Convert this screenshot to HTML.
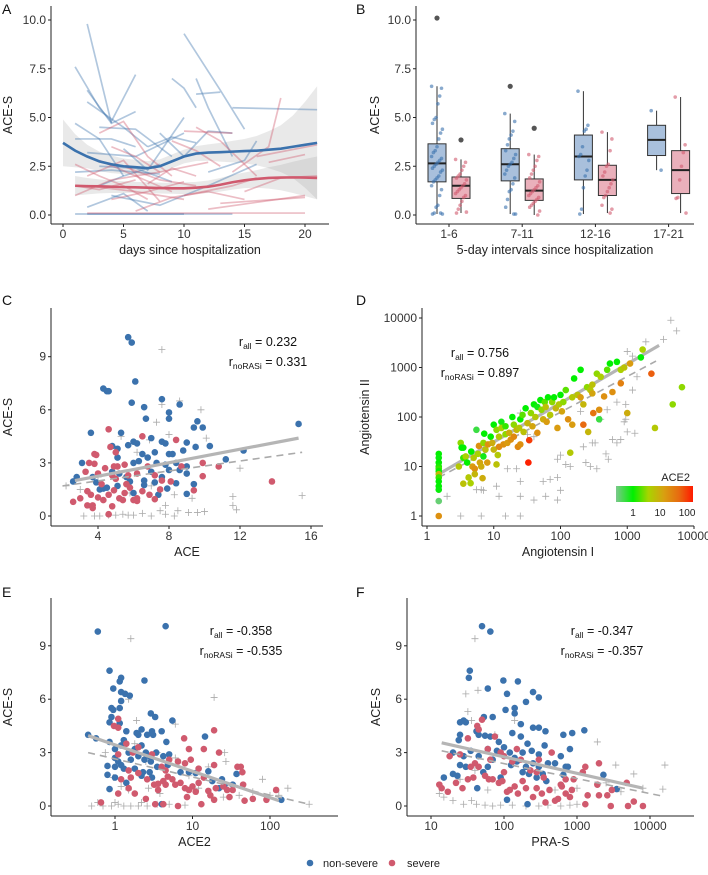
<!DOCTYPE html>
<html><head><meta charset="utf-8"><style>
body{margin:0;background:#fff}
svg{display:block;font-family:"Liberation Sans",Arial,sans-serif}
</style></head><body>
<svg id="fig" width="708" height="875" viewBox="0 0 708 875" xmlns="http://www.w3.org/2000/svg">
<defs><linearGradient id="ace2grad" x1="0" x2="1" y1="0" y2="0">
<stop offset="0" stop-color="#7cc88c"/><stop offset="0.22" stop-color="#00f000"/><stop offset="0.42" stop-color="#a8d400"/><stop offset="0.62" stop-color="#d8a010"/><stop offset="0.82" stop-color="#e86a10"/><stop offset="1" stop-color="#ff1a00"/></linearGradient></defs>
</svg>
<script>
// ---------- DATA ----------
const aBlueTraj=[[[2,9.8],[4,4.7]],[[1,7.6],[3,5.5],[4,4.8],[6,7.2]],[[2,6.4],[4,4.7],[6,5.3]],[[2,5.8],[5,4.5],[7,3.5]],[[9,7.0],[10,6.5],[11,5.5]],[[10,9.3],[13,6.4],[15,4.4]],[[11,7.0],[12,5.5],[14,3.0]],[[11,6.2],[13,6.3]],[[14,5.5],[21,5.4]],[[1,4.7],[3,3.9],[5,2.0]],[[1,3.9],[4,3.9],[6,3.5]],[[2,3.2],[6,3.0],[10,4.2]],[[3,4.5],[6,4.4],[9,3.0]],[[1,2.2],[4,2.3],[8,2.1]],[[3,1.5],[5,2.0],[8,2.6]],[[2,0.05],[6,0.05],[10,0.05]],[[1,0.05],[5,0.05],[14,0.05]],[[5,3.4],[7,2.3],[10,5.0]],[[8,4.2],[10,3.0],[12,4.3],[14,4.2]],[[4,1.0],[8,0.5],[12,1.5],[16,2.6]],[[12,2.2],[15,2.8],[16,3.8]],[[3,2.5],[6,2.4],[9,1.7]],[[7,3.5],[9,4.0],[11,3.7]],[[2,0.4],[5,1.1],[7,0.2]]];
const aPinkTraj=[[[1,2.6],[3,2.0],[5,1.5],[7,0.8]],[[3,4.2],[5,4.8],[7,3.0],[9,2.0]],[[1,1.0],[4,1.8],[8,2.2],[12,2.7]],[[2,1.5],[6,1.2],[10,0.8]],[[4,3.5],[6,3.0],[8,2.2]],[[10,4.3],[14,4.2]],[[11,4.5],[13,3.8],[16,2.0]],[[14,2.2],[17,3.5],[18,6.0]],[[16,3.0],[21,3.6]],[[15,1.2],[18,1.9],[21,2.0]],[[12,0.3],[20,1.0]],[[13,0.6],[20,0.9]],[[2,0.1],[8,0.1],[20,0.1]],[[5,2.5],[8,1.8],[11,1.5]],[[6,0.2],[9,0.9],[12,1.2],[15,0.8]],[[3,2.8],[6,2.0],[9,1.2]],[[7,1.6],[9,2.4],[11,2.0]],[[4,0.8],[7,1.2],[10,1.7]],[[1,1.5],[3,1.3],[6,1.8]],[[9,3.8],[11,3.3],[13,2.5]],[[17,2.7],[20,3.1]],[[2,2.0],[5,2.8],[8,0.7]],[[10,1.0],[14,1.5],[16,1.9]]];
const aBlueDays=[0,1,2,3,4,5,6,7,8,9,10,11,12,13,14,15,16,17,18,19,20,21];
const aBlueMean=[3.7,3.3,3.0,2.75,2.6,2.5,2.45,2.4,2.5,2.75,3.0,3.15,3.2,3.22,3.25,3.28,3.3,3.35,3.4,3.5,3.6,3.7];
const aBlueHalf=[1.2,0.85,0.6,0.5,0.45,0.4,0.38,0.36,0.35,0.35,0.35,0.38,0.42,0.48,0.55,0.62,0.75,0.95,1.2,1.6,2.2,2.9];
const aPinkDays=[1,2,3,4,5,6,7,8,9,10,11,12,13,14,15,16,17,18,19,20,21];
const aPinkMean=[1.5,1.48,1.47,1.45,1.43,1.42,1.4,1.38,1.37,1.37,1.4,1.45,1.55,1.68,1.78,1.85,1.9,1.92,1.93,1.92,1.9];
const aPinkHalf=[0.5,0.42,0.36,0.32,0.3,0.28,0.28,0.28,0.28,0.3,0.3,0.32,0.35,0.38,0.4,0.45,0.55,0.65,0.8,0.95,1.1];
const aXTicks=[0,5,10,15,20];
const abYTicks=[0,2.5,5,7.5,10];
const bCats=["1-6","7-11","12-16","17-21"];
const bBlueStats=[[0.05,1.7,2.65,3.65,6.6],[0.05,1.75,2.6,3.4,5.2],[0.05,1.8,3.0,4.1,6.35],[2.3,3.05,3.85,4.6,5.35]];
const bPinkStats=[[0.1,0.85,1.5,1.95,2.85],[0.0,0.75,1.25,1.85,3.1],[0.1,1.0,1.8,2.55,4.25],[0.1,1.1,2.3,3.3,6.05]];
const bBlueOut=[[10.1],[6.6],[],[]];
const bPinkOut=[[3.85],[4.45],[],[]];
const bBlueVals=[[6.6,6.5,6.1,5.7,5.0,4.9,4.7,4.4,4.2,3.9,3.5,3.3,3.2,3.0,2.9,2.8,2.7,2.6,2.5,2.4,2.3,2.2,2.0,1.9,1.8,1.7,1.5,1.3,1.0,0.5,0.4,0.1,0.05,0.05,0.1],[5.2,4.8,4.3,4.1,3.9,3.6,3.3,3.1,2.9,2.7,2.6,2.5,2.3,2.1,1.9,1.6,1.3,1.2,0.8,0.4,0.05,0.05],[6.35,4.6,4.4,4.3,3.5,3.1,3.0,2.8,2.3,2.0,1.4,0.3,0.05],[5.35,2.3]];
const bPinkVals=[[2.85,2.7,2.5,2.3,2.1,2.0,1.9,1.8,1.6,1.5,1.4,1.3,1.2,1.1,1.0,0.9,0.7,0.5,0.3,0.1,0.15],[3.1,3.0,2.8,2.5,2.3,2.1,1.9,1.7,1.5,1.4,1.3,1.2,1.1,1.0,0.9,0.8,0.7,0.6,0.5,0.4,0.2,0.0],[4.25,3.9,3.3,2.6,2.5,2.2,2.0,1.8,1.6,1.4,1.2,1.0,0.9,0.5,0.3,0.1],[6.05,3.6,3.2,2.5,1.8,0.9,0.85,0.1]];
const cBlue=[[5.7,10.1],[5.9,9.8],[6.1,7.6],[4.3,7.2],[4.5,7.05],[4.6,7.05],[5.9,6.4],[7.6,6.6],[6.6,6.15],[8.6,6.3],[8.0,5.85],[8.0,5.5],[6.7,5.5],[9.6,5.35],[9.4,5.0],[9.9,5.0],[15.3,5.2],[3.6,4.7],[5.3,4.7],[5.7,4.0],[6.0,4.2],[6.2,4.1],[7.0,4.4],[7.6,4.2],[7.8,4.1],[9.0,4.15],[9.5,3.9],[10.3,3.95],[12.2,3.7],[4.8,3.95],[5.1,3.8],[6.5,3.5],[7.2,3.6],[8.0,3.5],[8.2,3.5],[8.8,3.7],[3.1,3.0],[5.1,3.3],[6.0,3.0],[6.3,3.1],[6.8,3.3],[7.3,3.0],[7.8,2.9],[8.4,3.0],[9.0,2.8],[11.2,3.2],[2.8,2.2],[3.7,2.2],[4.8,2.5],[5.2,2.4],[5.6,2.2],[6.6,2.0],[7.0,2.5],[7.6,2.2],[8.0,2.6],[8.6,2.6],[9.0,2.4],[2.6,1.95],[3.9,1.9],[4.1,1.5],[4.3,1.55],[4.5,1.6],[5.1,1.7],[5.8,1.95],[6.6,1.75],[7.2,1.9],[7.9,1.55],[8.4,1.85],[9.4,1.8],[6.0,1.3],[7.4,1.2],[9.0,1.25]];
const cPink=[[4.6,4.9],[6.5,4.5],[8.4,4.3],[4.7,3.9],[3.8,3.5],[3.9,3.45],[5.0,3.6],[3.5,3.0],[3.8,2.95],[4.4,2.7],[4.9,2.8],[5.1,2.8],[5.5,2.9],[6.8,2.8],[8.7,2.8],[9.9,3.0],[10.8,2.8],[3.3,2.5],[4.0,2.4],[4.8,2.3],[5.7,2.3],[6.2,2.4],[7.2,2.3],[7.6,2.0],[8.1,1.95],[9.9,2.25],[13.8,1.95],[3.0,1.0],[3.4,1.4],[3.6,1.2],[4.0,1.05],[4.3,0.9],[4.6,1.2],[4.9,1.45],[5.2,1.0],[5.5,1.3],[5.8,1.6],[6.2,1.0],[6.5,1.4],[6.9,1.2],[7.2,0.95],[7.5,1.5],[2.6,0.8],[3.4,0.6],[3.7,0.6],[3.7,0.45],[4.6,0.1],[4.8,0.55],[5.4,0.9],[6.0,0.9],[9.4,1.45],[6.2,0.85],[5.0,2.1],[5.6,1.8],[4.2,1.8]];
const cGray=[[7.6,9.4],[7.6,6.3],[9.8,6.0],[10.1,4.4],[8.0,4.6],[7.3,5.3],[2.2,1.7],[3.0,1.5],[3.2,0.0],[3.8,0.0],[4.1,0.0],[4.6,0.05],[5.0,0.05],[5.4,0.1],[5.7,0.05],[6.0,0.05],[6.5,0.15],[7.0,0.0],[7.5,0.3],[7.8,0.1],[8.3,0.0],[8.5,0.3],[9.1,0.2],[9.6,0.2],[10.0,0.25],[11.6,0.6],[11.8,0.35],[11.6,1.1],[15.5,1.15],[12.0,2.7],[8.3,1.2],[7.0,1.7],[5.8,1.3],[4.0,2.2],[6.2,3.6],[6.9,4.3],[8.6,6.5],[5.3,4.5],[7.8,0.6],[9.3,1.0]];
const cFitAll=[[2.7,2.0],[15.3,4.4]];
const cFitNo=[[2.0,1.7],[15.5,3.6]];
const cXTicks=[4,8,12,16];
const ceYTicks=[0,3,6,9];
const dPts=[[1.5,18,1],[1.5,15,0.9],[1.5,12,1],[1.5,10,1.2],[1.5,9,1.5],[1.5,8,1],[1.5,7,8],[1.5,6,1.5],[1.5,5,1],[1.5,4,1],[1.5,3.4,0.9],[1.5,2,0.3],[1.5,1,20],[3.2,30,3],[3.3,24,1],[3.5,24,1],[3.0,10,5],[3.5,15,1.5],[3.8,16,4],[4,12,1],[4.2,6,5],[3.5,4.5,6],[4.5,4.6,4],[4.6,20,1],[4.8,10,15],[5.0,15,5],[5.2,9,20],[5.5,55,0.5],[5.2,7,8],[5.8,18,4],[6,26,20],[6.2,12,12],[6.5,10,10],[6.8,5.8,10],[7,30,3],[7,16,0.8],[7.2,46,1],[7.5,22,6],[8,12,15],[8.2,28,20],[9,40,1],[9.5,30,10],[10,22,8],[10,70,1],[11,55,3],[11,11,6],[11.5,17,5],[12,25,25],[12,40,5],[13,80,0.8],[13,60,4],[14,28,20],[15,45,3],[15,65,1.5],[16,30,15],[17,48,10],[18,35,20],[19,100,1],[20,70,3],[20,40,25],[22,55,8],[23,25,25],[24,60,5],[25,90,1],[25,28,20],[27,110,2],[28,50,6],[30,150,1],[32,75,8],[34,34,100],[33,12,150],[36,120,3],[38,65,12],[40,180,1],[42,100,5],[45,48,20],[45,160,0.8],[50,220,1],[52,140,3],[55,90,10],[58,200,2],[60,160,6],[62,80,15],[65,250,1],[70,110,5],[75,200,3],[80,250,1],[85,150,8],[90,60,15],[95,180,5],[100,280,1],[105,130,12],[110,200,3],[120,350,2],[130,90,20],[140,19,5],[150,70,15],[150,250,5],[160,600,1],[180,280,6],[200,900,1],[200,250,15],[220,180,8],[220,70,50],[250,400,3],[260,50,8],[280,350,5],[300,450,6],[300,300,12],[310,120,40],[350,750,3],[380,90,0.5],[380,140,20],[400,650,4],[450,260,20],[500,900,2],[550,1200,1],[600,320,20],[700,1300,1],[800,480,30],[800,900,4],[900,1000,6],[1000,120,10],[1100,1200,15],[1600,1600,1],[1700,2300,4],[2300,750,60],[2600,60,5],[4800,180,3],[6600,400,3]];
const dGray=[[3.2,1],[6.5,1],[15,1],[25,1],[40,2.1],[60,2.5],[90,2.1],[25,2.5],[12,2.5],[11,4],[5.5,3.4],[7,3.3],[6.5,3.4],[25,5],[55,5],[70,5.5],[90,6],[100,3.3],[140,10],[90,14],[100,17],[120,11],[220,25],[240,12],[280,10],[300,30],[330,30],[350,9],[480,18],[520,14],[600,35],[700,30],[800,35],[1000,50],[1300,47],[900,80],[950,180],[950,90],[500,140],[700,200],[1200,350],[1400,650],[1000,2100],[1200,1700],[1900,3300],[3500,3700],[4500,9000],[5500,5500],[16,9],[22,9],[40,40],[32,44],[200,130],[400,90],[2,2.5],[25,120]];
const dFitAll=[[1.5,7],[3000,2800]];
const dFitNo=[[1.5,6],[2700,1350]];
const dXTicks=[1,10,100,1000,10000];
const dYTicks=[1,10,100,1000,10000];
const dLegendTicks=[1,10,100];
const eBlue=[[0.6,9.8],[4.5,10.1],[0.85,7.6],[1.15,7.0],[1.2,7.2],[2.4,7.05],[0.95,6.6],[1.2,6.4],[1.35,6.3],[1.55,6.2],[1.2,5.9],[1.15,5.5],[0.9,5.5],[0.95,5.4],[2.9,5.2],[3.3,5.0],[5.5,4.8],[0.9,5.0],[0.85,4.7],[1.15,4.65],[1.4,4.2],[1.9,4.1],[2.0,4.0],[2.2,4.3],[2.6,4.0],[3.0,4.2],[3.1,4.0],[4.0,4.2],[4.6,3.6],[14.5,3.9],[0.45,4.0],[0.57,3.8],[0.85,3.6],[1.0,3.2],[1.2,3.4],[1.3,3.7],[1.5,3.0],[1.8,3.2],[2.2,3.4],[2.5,3.0],[2.8,2.8],[3.4,3.0],[4.2,2.8],[5.0,2.9],[1.0,2.7],[1.1,2.5],[1.2,2.3],[1.6,2.6],[2.0,2.8],[2.4,2.6],[2.9,2.5],[0.8,2.25],[1.0,2.2],[1.3,2.1],[1.8,2.1],[2.3,1.9],[2.8,1.9],[3.5,2.2],[4.8,2.3],[0.8,1.75],[1.0,1.6],[1.4,1.3],[2.2,1.7],[3.0,1.6],[7,1.9],[9,1.9],[11,1.85],[16,1.95],[18,1.4],[22,1.0],[24,1.5],[26,1.2],[33,1.2],[37,1.8],[0.85,0.95],[4,0.1],[140,0.35]];
const ePink=[[0.97,4.5],[1.1,4.9],[1.1,4.4],[19,4.25],[7.8,3.8],[9,3.2],[14,3.2],[22,3.0],[1.4,3.5],[1.7,3.0],[2.0,3.3],[3.0,2.9],[4.0,2.2],[4.5,2.0],[5,2.6],[6.5,2.5],[8,2.4],[9.5,2.6],[12,2.1],[19,2.3],[38,2.2],[42,2.2],[44,1.9],[1.1,2.9],[1.5,2.0],[1.2,1.5],[1.6,1.6],[2,1.85],[2.6,1.5],[3.2,1.2],[3.6,1.25],[4.2,1.4],[4.8,1.65],[5.5,1.5],[6,1.2],[7,1.3],[8,1.0],[9,0.9],[10,1.1],[11,0.8],[12,1.3],[14,1.6],[16,0.85],[17,0.6],[20,1.0],[25,1.1],[28,0.9],[30,0.5],[33,0.9],[45,1.2],[47,0.3],[60,0.4],[90,0.35],[120,0.9],[1.1,0.7],[1.5,1.0],[1.8,0.7],[2.5,0.4],[3.3,0.1],[3.6,0.9],[4.2,0.1],[4.5,1.2],[6.5,0.0],[8.5,0.5],[13,0.1],[19,0.35],[0.66,0.2]];
const eGray=[[1.6,9.4],[19,6.1],[1.5,6.0],[1.9,4.8],[6,4.6],[0.75,3.0],[1.8,3.5],[2.5,2.5],[3.5,3.0],[26,3.0],[27,2.5],[80,1.5],[170,1.0],[130,0.6],[320,0.1],[0.5,0],[0.6,0.2],[0.7,0],[0.9,0],[1.0,0.2],[1.1,0.1],[1.3,0],[1.6,0],[2.0,0],[2.2,0.2],[2.6,0],[3.5,0.1],[5.0,0.1],[8,0.05],[1.2,1.1],[1.5,0.9],[0.95,1.6],[2.7,1.0],[3.8,0.7],[6,2.7],[9,1.7],[12,1.0],[16,2.2],[25,0.5],[40,0.6],[60,0.8],[100,0.6]];
const eFitAll=[[0.45,3.95],[130,0.3]];
const eFitNo=[[0.45,3.0],[320,0.1]];
const eXTicks=[1,10,100];
const fBlue=[[50,10.1],[65,9.8],[34,7.6],[33,7.2],[98,7.05],[155,7.0],[60,6.6],[250,6.4],[300,6.1],[110,6.3],[200,5.85],[140,5.5],[105,5.4],[140,5.2],[53,5.0],[70,5.0],[25,4.7],[28,4.8],[30,4.7],[170,4.6],[250,4.4],[300,4.4],[370,4.2],[1260,4.25],[650,4.0],[860,4.1],[42,4.2],[45,4.0],[55,3.95],[65,3.9],[85,3.6],[100,3.3],[130,4.1],[170,3.9],[210,3.5],[25,4.0],[24,3.7],[20,3.0],[28,2.8],[35,3.1],[45,2.8],[60,3.2],[80,3.1],[120,3.0],[140,2.7],[180,3.0],[240,3.1],[300,2.9],[360,3.4],[800,3.2],[25,2.3],[30,2.2],[60,2.2],[70,2.6],[125,2.3],[150,2.5],[200,2.2],[250,2.4],[300,2.2],[400,2.4],[500,2.4],[600,2.8],[700,2.2],[750,2.2],[20,1.8],[23,1.7],[15,1.6],[52,1.9],[90,1.6],[180,1.9],[220,1.8],[340,1.8],[380,1.4],[650,1.75],[2300,1.75],[3500,0.95],[43,1.0],[110,0.35],[210,0.1],[280,1.6]];
const fPink=[[50,4.85],[43,4.5],[45,4.3],[32,3.8],[75,3.9],[60,3.2],[90,3.0],[150,3.2],[25,2.9],[18,2.8],[40,2.4],[65,2.6],[100,2.8],[130,2.5],[170,2.6],[230,2.0],[300,2.6],[450,3.0],[280,1.9],[350,1.6],[600,1.2],[700,1.5],[900,1.5],[1300,2.2],[2000,2.4],[1200,1.9],[1900,1.2],[13,1.2],[14,1.0],[17,0.8],[22,1.3],[27,1.0],[32,1.5],[35,2.2],[38,1.6],[45,2.2],[55,1.7],[62,1.5],[70,1.5],[85,1.3],[95,1.4],[100,1.9],[110,0.8],[120,0.9],[140,1.1],[155,0.7],[180,1.4],[200,1.0],[250,0.5],[280,1.0],[330,0.7],[370,0.2],[420,0.9],[500,0.3],[550,0.4],[620,1.1],[700,0.7],[800,0.5],[850,0.9],[1300,0.1],[1400,0.6],[2000,0.6],[2900,0.0],[3000,0.9],[4800,1.3],[5000,0.0],[6000,0.25],[8000,0.0],[2600,0.6]];
const fGray=[[40,9.4],[30,6.3],[44,6.5],[32,5.3],[36,4.8],[1900,3.6],[3400,2.3],[16000,2.3],[6000,1.8],[15000,0.95],[8000,1.0],[13,0.7],[15,0.5],[20,0.3],[28,0.1],[36,0.3],[42,0.1],[55,0.05],[70,0.0],[90,0.05],[130,0.05],[200,0.0],[300,0.0],[400,0.05],[600,0.0],[800,0.05],[1000,0.1],[25,1.5],[40,2.0],[60,0.9],[75,4.0],[140,4.8],[500,0.9],[1000,1.0],[2500,1.3],[4000,0.8]];
const fFitAll=[[14,3.55],[8000,1.0]];
const fFitNo=[[14,3.1],[15000,0.55]];
const fXTicks=[10,100,1000,10000];
const statsC=["0.232","0.331"], statsD=["0.756","0.897"], statsE=["-0.358","-0.535"], statsF=["-0.347","-0.357"];

// ---------- DRAWING ----------
const NS="http://www.w3.org/2000/svg";
const svg=document.getElementById('fig');
const BLUE="#3b72ad", PINK="#d05a6e";
function el(tag,attrs,parent){const e=document.createElementNS(NS,tag);for(const k in attrs)e.setAttribute(k,attrs[k]);(parent||svg).appendChild(e);return e;}
function grp(name){const g=el('g',{});return g;}
const L=Math.log10;
const xA=d=>63+d*12.1, yA=v=>215-v*19.5;
const xC=v=>98+(v-4)*17.75, yC=v=>516-v*17.7;
const xD=v=>427+L(v)*66.75, yD=v=>516-L(v)*49.5;
const xE=v=>115+L(v)*77.5, yE=v=>806-v*17.8;
const xF=v=>431+(L(v)-1)*73, yF=yE;

function axes(name,x0,x1,yTop,yBot,xt,xs,xl,yt,ys,yl,xTitle,yTitle,ytx){
  const g=grp(name+'-axes');
  el('line',{x1:x0,y1:yTop,x2:x0,y2:yBot,stroke:'#222','stroke-width':1},g);
  el('line',{x1:x0,y1:yBot,x2:x1,y2:yBot,stroke:'#222','stroke-width':1},g);
  xt.forEach((t,i)=>{const x=xs(t);el('line',{x1:x,y1:yBot,x2:x,y2:yBot+3,stroke:'#222'},g);
    const tx=el('text',{x:x,y:yBot+14,'font-size':12,'text-anchor':'middle',fill:'#333'},g);tx.textContent=xl[i];
    });
  yt.forEach((t,i)=>{const y=ys(t);el('line',{x1:x0-3,y1:y,x2:x0,y2:y,stroke:'#222'},g);
    const tx=el('text',{x:x0-5,y:y+4,'font-size':12,'text-anchor':'end',fill:'#333'},g);tx.textContent=yl[i];
    });
  const xtt=el('text',{x:(x0+x1)/2,y:yBot+30,'font-size':12.5,'text-anchor':'middle',fill:'#222'},g);xtt.textContent=xTitle;
  
  const yc=(yTop+yBot)/2;
  const ytt=el('text',{x:ytx,y:yc,'font-size':12.5,'text-anchor':'middle',fill:'#222',transform:`rotate(-90 ${ytx} ${yc})`},g);ytt.textContent=yTitle;
  
}
function letter(t,x,y){const e=el('text',{x:x,y:y,'font-size':14,fill:'#111'});e.textContent=t;
  }
function dots(g,pts,xs,ys,col,r){pts.forEach(p=>{const c=el('circle',{cx:xs(p[0]),cy:ys(p[1]),r:r||3.3,fill:col},g);
  });}
function crosses(g,pts,xs,ys){pts.forEach(p=>{const x=xs(p[0]),y=ys(p[1]);
  const c=el('path',{d:`M${x-3.5},${y}H${x+3.5}M${x},${y-3.5}V${y+3.5}`,stroke:'#aaa','stroke-width':0.8,fill:'none'},g);
  });}
function fit(g,f,xs,ys,dash){const l=el('line',{x1:xs(f[0][0]),y1:ys(f[0][1]),x2:xs(f[1][0]),y2:ys(f[1][1]),stroke:dash?'#aaa':'#b5b5b5','stroke-width':dash?1.6:3.2,'stroke-dasharray':dash?'7,5':'none'},g);
  }
function stats(cx,y,s){const g=grp('correlation-stats');
  const t1=el('text',{x:cx,y:y,'font-size':12.5,'text-anchor':'middle',fill:'#111'},g);
  t1.innerHTML=`r<tspan font-size="8.5" dy="3">all</tspan><tspan dy="-3"> = ${s[0]}</tspan>`;
  const t2=el('text',{x:cx,y:y+20,'font-size':12.5,'text-anchor':'middle',fill:'#111'},g);
  t2.innerHTML=`r<tspan font-size="8.5" dy="3">noRASi</tspan><tspan dy="-3"> = ${s[1]}</tspan>`;}

// Panel A
letter('A',2,14);
(function(){const g=grp('panel-a-plot');
  function band(days,mean,half){let d='';days.forEach((t,i)=>{d+=(i?'L':'M')+xA(t)+','+yA(mean[i]+half[i]);});
    for(let i=days.length-1;i>=0;i--)d+='L'+xA(days[i])+','+yA(Math.max(mean[i]-half[i],-0.5));return d+'Z';}
  const b1=el('path',{d:band(aBlueDays,aBlueMean,aBlueHalf),fill:'#999','fill-opacity':0.22},g);
  const b2=el('path',{d:band(aPinkDays,aPinkMean,aPinkHalf),fill:'#999','fill-opacity':0.22},g);
  function traj(list,col,name){list.forEach(t=>{const p=el('polyline',{points:t.map(q=>xA(q[0])+','+yA(q[1])).join(' '),fill:'none',stroke:col,'stroke-opacity':0.4,'stroke-width':1.7},g);
    });}
  traj(aBlueTraj,BLUE,'trajectory-non-severe');traj(aPinkTraj,PINK,'trajectory-severe');
  function smooth(days,mean,col,name){const p=el('polyline',{points:days.map((t,i)=>xA(t)+','+yA(mean[i])).join(' '),fill:'none',stroke:col,'stroke-width':2.6},g);
    }
  smooth(aBlueDays,aBlueMean,BLUE,'smooth-non-severe');smooth(aPinkDays,aPinkMean,PINK,'smooth-severe');
})();
axes('panel-a',51,329,6,224,aXTicks,xA,aXTicks.map(String),abYTicks,yA,abYTicks.map(v=>v.toFixed(1)),'days since hospitalization','ACE-S',12);

// Panel B
letter('B',356,14);
const bCenter=i=>449+i*73.2;
(function(){const g=grp('panel-b-plot');
  function box(cx,s,outs,vals,fill,col,name){
    const w=el('line',{x1:cx,y1:yA(s[0]),x2:cx,y2:yA(s[4]),stroke:'#333','stroke-width':1},g);
    const r=el('rect',{x:cx-9,y:yA(s[3]),width:18,height:yA(s[1])-yA(s[3]),fill:fill,stroke:'#333','stroke-width':1},g);
    const m=el('line',{x1:cx-9,y1:yA(s[2]),x2:cx+9,y2:yA(s[2]),stroke:'#222','stroke-width':2},g);
    outs.forEach(o=>{const c=el('circle',{cx:cx,cy:yA(o),r:2.6,fill:'#555'},g);});
    vals.forEach((v,k)=>{const c=el('circle',{cx:cx+((k*37)%13-6)*0.9,cy:yA(v),r:1.8,fill:col,'fill-opacity':0.6},g);});
  }
  bCats.forEach((c,i)=>{box(bCenter(i)-12,bBlueStats[i],bBlueOut[i],bBlueVals[i],'#a9c0dc',BLUE,'non-severe-'+c);
    box(bCenter(i)+12,bPinkStats[i],bPinkOut[i],bPinkVals[i],'#eab0bb',PINK,'severe-'+c);});
})();
axes('panel-b',416,694,6,224,[0,1,2,3],bCenter,bCats,abYTicks,yA,abYTicks.map(v=>v.toFixed(1)),'5-day intervals since hospitalization','ACE-S',379);

// Panel C
letter('C',2,305);
(function(){const g=grp('panel-c-plot');crosses(g,cGray,xC,yC);dots(g,cBlue,xC,yC,BLUE);dots(g,cPink,xC,yC,PINK);
  fit(g,cFitNo,xC,yC,true);fit(g,cFitAll,xC,yC,false);})();
axes('panel-c',51,323,308,526,cXTicks,xC,cXTicks.map(String),ceYTicks,yC,ceYTicks.map(String),'ACE','ACE-S',12);
stats(268,346,statsC);

// Panel D
letter('D',356,305);
const dStops=[[0,[124,200,140]],[0.22,[0,240,0]],[0.42,[168,212,0]],[0.62,[216,160,16]],[0.82,[232,106,16]],[1,[255,26,0]]];
function aceColor(v){let t=(L(v)+0.63)/2.85;t=Math.max(0,Math.min(1,t));
  for(let i=1;i<dStops.length;i++){if(t<=dStops[i][0]){const a=dStops[i-1],b=dStops[i],f=(t-a[0])/(b[0]-a[0]);
    return 'rgb('+a[1].map((c,j)=>Math.round(c+(b[1][j]-c)*f)).join(',')+')';}}return 'rgb(255,26,0)';}
(function(){const g=grp('panel-d-plot');crosses(g,dGray,xD,yD);fit(g,dFitNo,xD,yD,true);fit(g,dFitAll,xD,yD,false);
  dPts.forEach(p=>{const c=el('circle',{cx:xD(p[0]),cy:yD(p[1]),r:3.3,fill:aceColor(p[2])},g);
    });
  const lg=grp('ace2-colorbar');
  const r=el('rect',{x:616,y:486,width:77,height:16,fill:'url(#ace2grad)'},lg);
  const tt=el('text',{x:690,y:481,'font-size':11,'text-anchor':'end',fill:'#222'},lg);tt.textContent='ACE2';
  dLegendTicks.forEach(v=>{const x=616+(L(v)+0.63)/2.85*77;const t=el('text',{x:x,y:516,'font-size':10,'text-anchor':'middle',fill:'#222'},lg);t.textContent=String(v);
    });
})();
axes('panel-d',422,694,308,526,dXTicks,xD,dXTicks.map(String),dYTicks,yD,dYTicks.map(String),'Angiotensin I','Angiotensin II',369);
stats(480,357,statsD);

// Panel E
letter('E',2,597);
(function(){const g=grp('panel-e-plot');crosses(g,eGray,xE,yE);dots(g,eBlue,xE,yE,BLUE);dots(g,ePink,xE,yE,PINK);
  fit(g,eFitNo,xE,yE,true);fit(g,eFitAll,xE,yE,false);})();
axes('panel-e',51,338,598,816,eXTicks,xE,eXTicks.map(String),ceYTicks,yE,ceYTicks.map(String),'ACE2','ACE-S',12);
stats(241,635,statsE);

// Panel F
letter('F',356,597);
(function(){const g=grp('panel-f-plot');crosses(g,fGray,xF,yF);dots(g,fBlue,xF,yF,BLUE);dots(g,fPink,xF,yF,PINK);
  fit(g,fFitNo,xF,yF,true);fit(g,fFitAll,xF,yF,false);})();
axes('panel-f',407,694,598,816,fXTicks,xF,fXTicks.map(String),ceYTicks,yF,ceYTicks.map(String),'PRA-S','ACE-S',380);
stats(602,635,statsF);

// Legend
(function(){const g=grp('legend');
  const c1=el('circle',{cx:310,cy:863,r:3.3,fill:BLUE},g);
  const t1=el('text',{x:323,y:867,'font-size':11,fill:'#222'},g);t1.textContent='non-severe';
  const c2=el('circle',{cx:392,cy:863,r:3.3,fill:PINK},g);
  const t2=el('text',{x:407,y:867,'font-size':11,fill:'#222'},g);t2.textContent='severe';
})();
</script>
</body></html>
